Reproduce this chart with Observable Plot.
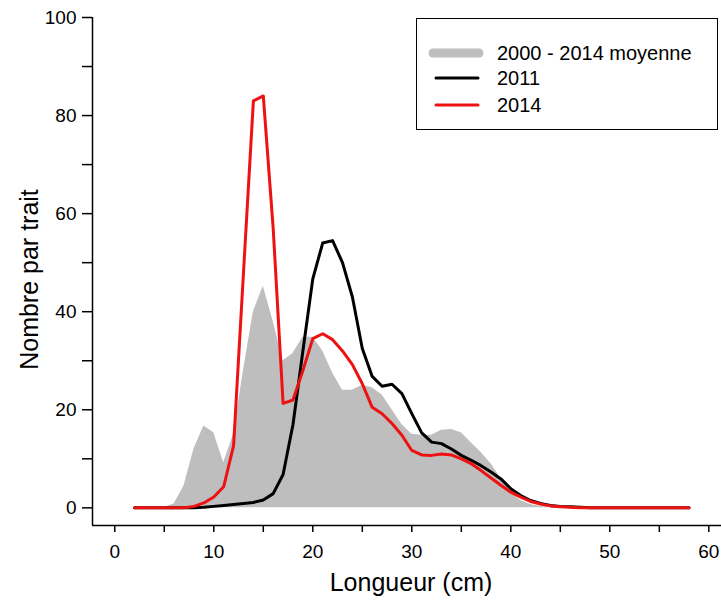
<!DOCTYPE html>
<html>
<head>
<meta charset="utf-8">
<script src="https://cdn.jsdelivr.net/npm/d3@7"></script>
<script src="https://cdn.jsdelivr.net/npm/@observablehq/plot@0.6"></script>
<style>
  html, body { margin: 0; padding: 0; background: white; }
  #wrap { position: relative; width: 721px; height: 608px; font-family: "Liberation Sans", Arial, sans-serif; }
  #legend { position: absolute; left: 416px; top: 18px; width: 300px; height: 110px; border: 1.5px solid black; background: white; }
  .row { position: absolute; left: 0; height: 24px; display: flex; align-items: center; }
  .row svg { width: 80px; height: 24px; }
  .row span { font-size: 20px; color: black; margin-left: 0px; }
</style>
</head>
<body>
<div id="wrap"></div>
<script>
// Length classes (cm)
const lengths = d3.range(2, 59);
// 2000 - 2014 moyenne
const meanValues = [0,0,0,0.1,0.8,4.5,12,16.7,15.3,9.2,15,28,40,45.2,38,30,31.5,34.8,34.8,32,27.5,24,24,25,24.5,23,20,17,15,14.8,14.8,15.8,16,15.3,13.3,11.3,9,6,3.2,1.5,0.7,0.3,0.1,0,0,0,0,0,0,0,0,0,0,0,0,0,0];
// 2011
const values2011 = [0,0,0,0,0,0,0,0.1,0.3,0.5,0.7,0.9,1.1,1.6,2.9,6.8,17,32,46.7,54,54.5,50,43,32.5,26.8,24.8,25.2,23.3,19.2,15.3,13.4,13.1,12,10.7,9.7,8.6,7.3,5.9,3.9,2.5,1.5,0.9,0.5,0.3,0.2,0.1,0,0,0,0,0,0,0,0,0,0,0];
// 2014
const values2014 = [0,0,0,0,0,0,0.3,1.0,2.2,4.3,12.7,48,83,84,57,21.3,22,28,34.5,35.5,34.3,32,29.2,25.3,20.5,19.2,17.2,14.8,11.7,10.8,10.7,11.0,10.8,10.0,9.0,7.6,6.1,4.6,3.2,2.2,1.3,0.8,0.4,0.2,0.1,0,0,0,0,0,0,0,0,0,0,0,0];

const xTicks = d3.range(0, 61, 5);
const yTicks = d3.range(0, 101, 10);
const legendLabels = ["2000 - 2014 moyenne", "2011", "2014"];
const xTitle = "Longueur (cm)";
const yTitle = "Nombre par trait";

const rows = lengths.map((L, i) => ({L, mean: meanValues[i], y2011: values2011[i], y2014: values2014[i]}));

const xDomain = [-2.25, 61.28];
const yDomain = [-3.6, 100];

const chart = Plot.plot({
  width: 721,
  height: 608,
  marginLeft: 92,
  marginRight: 0,
  marginTop: 17,
  marginBottom: 83,
  x: {domain: xDomain},
  y: {domain: yDomain},
  style: {fontFamily: "'Liberation Sans', Arial, sans-serif", fontSize: "19px", color: "black", background: "white"},
  marks: [
    Plot.areaY(rows, {x: "L", y: "mean", fill: "#bebebe"}),
    Plot.lineY(rows, {x: "L", y: "y2011", stroke: "black", strokeWidth: 3}),
    Plot.lineY(rows, {x: "L", y: "y2014", stroke: "#ee1111", strokeWidth: 3}),
    Plot.ruleX([xDomain[0]], {stroke: "black", strokeWidth: 1.5}),
    Plot.ruleY([yDomain[0]], {stroke: "black", strokeWidth: 1.5}),
    Plot.axisY({ticks: yTicks, tickSize: 10, tickPadding: 6, tickFormat: d => d % 20 === 0 ? String(d) : "", label: null, fontSize: 19, strokeWidth: 1.5}),
    Plot.axisX({ticks: xTicks, tickSize: 7, tickPadding: 12, tickFormat: d => d % 10 === 0 ? String(d) : "", label: null, fontSize: 19, strokeWidth: 1.5}),
    Plot.text([xTitle], {text: d => d, frameAnchor: "bottom", dy: 65, dx: 4, fontSize: 25}),
    Plot.text([yTitle], {text: d => d, frameAnchor: "left", textAnchor: "middle", dx: -63, dy: 8, rotate: -90, fontSize: 25})
  ]
});
const wrap = document.getElementById("wrap");
wrap.appendChild(chart);

// legend
const legend = document.createElement("div");
legend.id = "legend";
const swatches = [
  {color: "#bebebe", width: 9, x1: 16, x2: 62},
  {color: "black", width: 3, x1: 19, x2: 61},
  {color: "#ee1111", width: 3, x1: 19, x2: 61}
];
const rowTops = [22, 47, 74];
legendLabels.forEach((lab, i) => {
  const r = document.createElement("div");
  r.className = "row";
  r.style.top = rowTops[i] + "px";
  const s = swatches[i];
  r.innerHTML = `<svg><line x1="${s.x1}" x2="${s.x2}" y1="12" y2="12" stroke="${s.color}" stroke-width="${s.width}" stroke-linecap="round"/></svg><span>${lab}</span>`;
  legend.appendChild(r);
});
wrap.appendChild(legend);
</script>
</body>
</html>
